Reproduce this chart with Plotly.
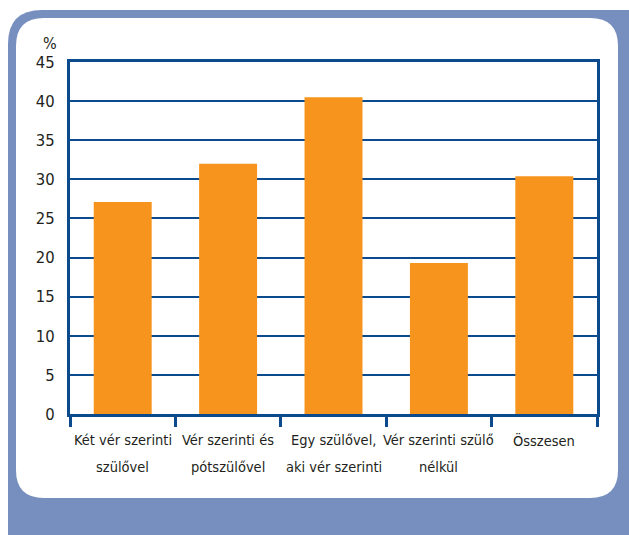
import plotly.graph_objects as go

categories = ["Két vér szerinti szülővel", "Vér szerinti és pótszülővel",
              "Egy szülővel, aki vér szerinti", "Vér szerinti szülő nélkül", "Összesen"]
label_line1 = ["Két vér szerinti", "Vér szerinti és", "Egy szülővel,", "Vér szerinti szülő", "Összesen"]
label_line2 = ["szülővel", "pótszülővel", "aki vér szerinti", "nélkül", ""]
values = [27.1, 32.0, 40.5, 19.3, 30.4]
y_ticks = [0, 5, 10, 15, 20, 25, 30, 35, 40, 45]

W, H = 629, 535
L, R, T, B = 70, 32, 62, 121
PW, PH = W - L - R, H - T - B

def px(X):
    return (X - L) / PW

def py(Y):
    return (H - B - Y) / PH

def rrect(x0, y0, x1, y1, r):
    rx = r / PW
    ry = r / PH
    a, b, c, d = px(x0), py(y0), px(x1), py(y1)
    return (f"M {a+rx},{b} L {c-rx},{b} Q {c},{b} {c},{b-ry} "
            f"L {c},{d+ry} Q {c},{d} {c-rx},{d} L {a+rx},{d} Q {a},{d} {a},{d+ry} "
            f"L {a},{b-ry} Q {a},{b} {a+rx},{b} Z")

navy = "#0b4a8c"
text_col = "#231f20"
font_family = "DejaVu Sans Condensed, Liberation Sans Narrow, sans-serif"

fig = go.Figure(go.Bar(x=categories, y=values, marker=dict(color="#f7941d", line=dict(width=0)),
                       hoverinfo="skip"))

annotations = [
    dict(text="%", xref="paper", yref="paper", x=px(50), y=py(43), showarrow=False,
         font=dict(size=16, color=text_col), xanchor="center", yanchor="middle"),
]
for cat, l1, l2 in zip(categories, label_line1, label_line2):
    annotations.append(dict(text=l1, xref="x", yref="paper", x=cat, y=py(440), showarrow=False,
                            font=dict(size=14.5, color=text_col), xanchor="center", yanchor="middle"))
    if l2:
        annotations.append(dict(text=l2, xref="x", yref="paper", x=cat, y=py(467), showarrow=False,
                                font=dict(size=14.5, color=text_col), xanchor="center", yanchor="middle"))

fig.update_layout(
    width=W, height=H,
    margin=dict(l=L, r=R, t=T, b=B),
    paper_bgcolor="white",
    plot_bgcolor="rgba(0,0,0,0)",
    bargap=0.45,
    showlegend=False,
    font=dict(family=font_family, size=14, color=text_col),
    shapes=[
        dict(type="path", xref="paper", yref="paper", layer="below",
             path=rrect(8, 10, 660, 570, 34), fillcolor="#768fbf", line=dict(width=0)),
        dict(type="path", xref="paper", yref="paper", layer="below",
             path=rrect(16, 18, 618, 498, 28), fillcolor="white", line=dict(width=0)),
    ],
    annotations=annotations,
)

fig.update_xaxes(
    type="category", showline=True, linecolor=navy, linewidth=3, mirror=True,
    ticks="outside", tickson="boundaries", ticklen=10, tickwidth=3, tickcolor=navy,
    showgrid=False, showticklabels=False,
)
fig.update_yaxes(
    range=[0, 45], tickvals=y_ticks, showline=True, linecolor=navy, linewidth=3, mirror=True,
    showgrid=True, gridcolor=navy, gridwidth=1.5, zeroline=False, ticks="",
    tickfont=dict(size=16.5, color=text_col), ticklabelstandoff=9,
)

fig.write_html("out.html", config={"displayModeBar": False},
               post_script="document.body.style.margin='0';document.body.style.padding='0';")
